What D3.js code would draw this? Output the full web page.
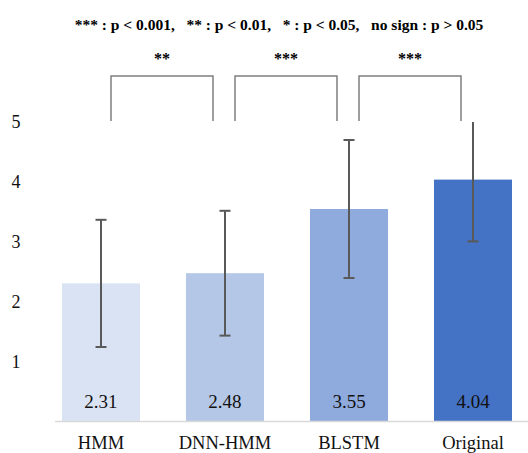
<!DOCTYPE html>
<html>
<head>
<meta charset="utf-8">
<script src="https://d3js.org/d3.v7.min.js"></script>
<style>
  body { margin: 0; background: #fff; }
  svg text { font-family: "Liberation Serif", "DejaVu Serif", serif; }
</style>
</head>
<body>
<div id="container"></div>
<script>
// Data
const categories = ["HMM", "DNN-HMM", "BLSTM", "Original"]
const means = [2.31, 2.48, 3.55, 4.04]
const errors = [1.06, 1.04, 1.15, 1.03]
const barColors = ["#dae3f3", "#b4c7e7", "#8faadc", "#4472c4"]
const yTicks = [1, 2, 3, 4, 5]
const pairs = [[0, 1, "**"], [1, 2, "***"], [2, 3, "***"]]
const legendText = "*** : p < 0.001,   ** : p < 0.01,   * : p < 0.05,   no sign : p > 0.05"

const w = 528
const h = 453

const svg = d3.select("#container")
    .append("svg")
    .attr("width", w)
    .attr("height", h)

// Scales
const x = d3.scaleBand()
    .domain(categories)
    .range([62, 512])
    .paddingInner(0.371)
    .paddingOuter(0)

const y = d3.scaleLinear()
    .domain([0, 5])
    .range([422, 122])

const cx = c => x(c) + x.bandwidth() / 2

// Significance legend
svg.append("text")
    .attr("x", 279)
    .attr("y", 30)
    .attr("text-anchor", "middle")
    .attr("font-weight", "bold")
    .attr("font-size", 15.5)
    .attr("fill", "#000")
    .style("white-space", "pre")
    .text(legendText)

// Y tick labels (no axis line)
svg.selectAll(".ytick")
    .data(yTicks)
    .enter()
    .append("text")
    .attr("class", "ytick")
    .attr("x", 16)
    .attr("y", d => y(d) + 6)
    .attr("text-anchor", "middle")
    .attr("font-size", 18)
    .attr("fill", "#111")
    .text(d => d)

// Bars
svg.selectAll(".bar")
    .data(categories)
    .enter()
    .append("rect")
    .attr("class", "bar")
    .attr("x", d => x(d))
    .attr("y", (d, i) => y(means[i]))
    .attr("width", x.bandwidth())
    .attr("height", (d, i) => y(0) - y(means[i]))
    .attr("fill", (d, i) => barColors[i])

// Baseline
svg.append("line")
    .attr("x1", 55)
    .attr("x2", w)
    .attr("y1", y(0) - 0.5)
    .attr("y2", y(0) - 0.5)
    .attr("stroke", "#d9d9d9")
    .attr("stroke-width", 1.5)

// Error bars (clipped at top of axis)
const errG = svg.append("g")
    .attr("stroke", "#595959")
    .attr("stroke-width", 2)
categories.forEach((c, i) => {
    const top = means[i] + errors[i]
    const bot = means[i] - errors[i]
    const yTop = y(Math.min(top, 5))
    errG.append("line")
        .attr("x1", cx(c)).attr("x2", cx(c))
        .attr("y1", yTop).attr("y2", y(bot))
    if (top <= 5) {
        errG.append("line")
            .attr("x1", cx(c) - 5.5).attr("x2", cx(c) + 5.5)
            .attr("y1", yTop).attr("y2", yTop)
    }
    errG.append("line")
        .attr("x1", cx(c) - 5.5).attr("x2", cx(c) + 5.5)
        .attr("y1", y(bot)).attr("y2", y(bot))
})

// Value labels
svg.selectAll(".val")
    .data(categories)
    .enter()
    .append("text")
    .attr("class", "val")
    .attr("x", d => cx(d))
    .attr("y", 408)
    .attr("text-anchor", "middle")
    .attr("font-size", 19)
    .attr("fill", "#111")
    .text((d, i) => means[i].toFixed(2))

// Category labels
svg.selectAll(".cat")
    .data(categories)
    .enter()
    .append("text")
    .attr("class", "cat")
    .attr("x", d => cx(d))
    .attr("y", 449)
    .attr("text-anchor", "middle")
    .attr("font-size", 18.5)
    .attr("fill", "#111")
    .text(d => d)

// Significance brackets
const brG = svg.append("g")
    .attr("fill", "none")
    .attr("stroke", "#7f7f7f")
    .attr("stroke-width", 1.5)
pairs.forEach(p => {
    const x1 = cx(categories[p[0]]) + 10
    const x2 = cx(categories[p[1]]) - 12
    brG.append("path")
        .attr("d", `M${x1},121V76H${x2}V121`)
    svg.append("text")
        .attr("x", (x1 + x2) / 2)
        .attr("y", 64)
        .attr("text-anchor", "middle")
        .attr("font-weight", "bold")
        .attr("font-size", 16)
        .attr("fill", "#000")
        .text(p[2])
})
</script>
</body>
</html>
